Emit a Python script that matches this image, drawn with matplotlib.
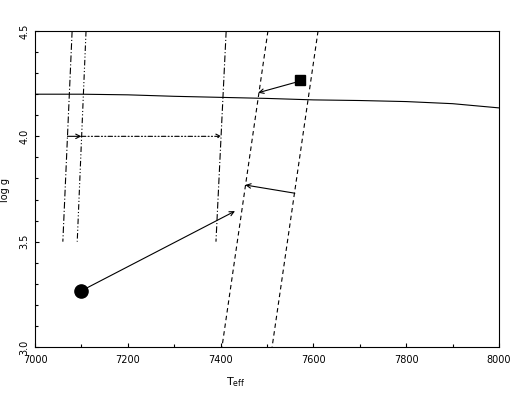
import matplotlib
matplotlib.use('Agg')
import matplotlib.pyplot as plt

# solid near-horizontal curve
curve_t = [7000, 7100, 7200, 7300, 7400, 7500, 7600, 7700, 7800, 7900, 8000]
curve_g = [4.20, 4.20, 4.197, 4.19, 4.185, 4.18, 4.173, 4.17, 4.165, 4.155, 4.135]

# near-vertical boundary lines: ([t_top, t_bottom], [g_top, g_bottom])
edge_a = ([7080, 7060], [4.5, 3.5])
edge_b = ([7110, 7091], [4.5, 3.5])
edge_c = ([7412, 7390], [4.5, 3.5])
edge_d = ([7502, 7403], [4.5, 3.0])
edge_e = ([7610, 7511], [4.5, 3.0])

square_pt = (7571, 4.267)
circle_pt = (7100, 3.267)

# arrows: (start, end)
arrows_solid = [((7571, 4.262), (7481, 4.207)),
                ((7560, 3.730), (7453, 3.769)),
                ((7100, 3.267), (7431, 3.645)),
                ((7070, 4.0), (7100, 4.0))]
arrow_dashdot = ((7100, 4.0), (7402, 4.0))

fig = plt.figure(figsize=(5.31, 4.04), dpi=100)
ax = fig.add_axes([35/531, 1 - 347/404, 464/531, 316/404])

lw = 0.8
ax.plot(curve_t, curve_g, color='black', lw=lw)
ax.plot(*edge_a, color='black', lw=lw, linestyle=(0, (6, 2, 1, 2)))
ax.plot(*edge_b, color='black', lw=lw, linestyle=(0, (5, 2, 1, 2, 1, 2)))
ax.plot(*edge_c, color='black', lw=lw, linestyle=(0, (6, 2, 1, 2)))
ax.plot(*edge_d, color='black', lw=lw, linestyle=(0, (4, 3)))
ax.plot(*edge_e, color='black', lw=lw, linestyle=(0, (4, 3)))

for (x0, y0), (x1, y1) in arrows_solid:
    ax.annotate('', xy=(x1, y1), xytext=(x0, y0),
                arrowprops=dict(arrowstyle='->', color='black', lw=lw,
                                shrinkA=0, shrinkB=0, mutation_scale=8))
(x0, y0), (x1, y1) = arrow_dashdot
ax.annotate('', xy=(x1, y1), xytext=(x0, y0),
            arrowprops=dict(arrowstyle='->', color='black', lw=lw,
                            linestyle=(0, (4, 2, 1, 2, 1, 2)),
                            shrinkA=0, shrinkB=0, mutation_scale=8))

ax.plot(*square_pt, marker='s', color='black', markersize=7.5)
ax.plot(*circle_pt, marker='o', color='black', markersize=9.5)

ax.set_xlim(7000, 8000)
ax.set_ylim(3.0, 4.5)
ax.set_xticks([7000, 7200, 7400, 7600, 7800, 8000])
ax.set_xticks(range(7100, 8000, 200), minor=True)
ax.set_yticks([3.0, 3.5, 4.0, 4.5])
ax.set_yticks([3.1, 3.2, 3.3, 3.4, 3.6, 3.7, 3.8, 3.9, 4.1, 4.2, 4.3, 4.4], minor=True)
ax.tick_params(direction='in', length=3, width=0.8, labelsize=7)
ax.tick_params(axis='x', pad=6)
ax.tick_params(axis='y', pad=4)
ax.tick_params(which='minor', direction='in', length=2.2, width=0.8)
for lab in ax.get_yticklabels():
    lab.set_rotation(90)
    lab.set_va('center')
for s in ax.spines.values():
    s.set_linewidth(0.8)

ax.set_xlabel(r'T$_{\rm eff}$', fontsize=8)
ax.set_ylabel('log g', fontsize=7)
ax.xaxis.set_label_coords((236 - 35) / 464, -(375 - 347) / 316)
ax.yaxis.set_label_coords(-(35 - 10) / 464, (347 - 190) / 316)

fig.savefig('out.png', dpi=100)
